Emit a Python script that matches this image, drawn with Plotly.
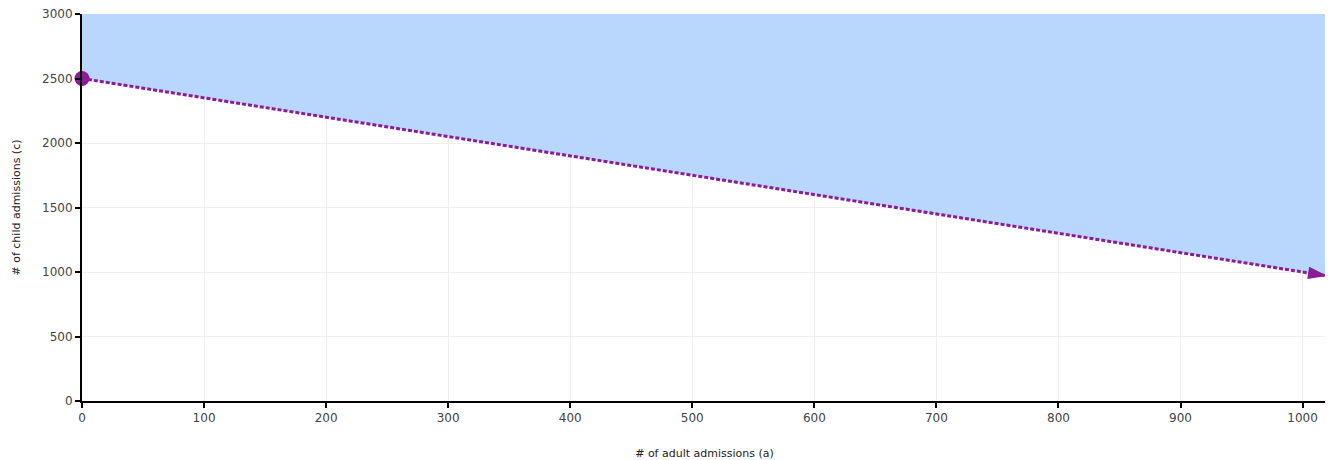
import plotly.graph_objects as go

adult = [0, 1020]
child = [2500, 970]
y_top = 3000
x_ticks = [0, 100, 200, 300, 400, 500, 600, 700, 800, 900, 1000]
y_ticks = [0, 500, 1000, 1500, 2000, 2500, 3000]

purple = "#8b1c98"
fig = go.Figure()
# shaded region above the line
fig.add_trace(go.Scatter(x=adult, y=[y_top] * len(adult), mode="lines",
                         line=dict(width=0), hoverinfo="skip", showlegend=False))
fig.add_trace(go.Scatter(x=adult, y=child, mode="lines", line=dict(width=0),
                         fill="tonexty", fillcolor="#b9d7fd", hoverinfo="skip",
                         showlegend=False))
# boundary line
fig.add_trace(go.Scatter(x=adult, y=child, mode="lines",
                         line=dict(color=purple, width=3, dash="4px,2px"),
                         showlegend=False))
# start point
fig.add_trace(go.Scatter(x=adult[:1], y=child[:1], mode="markers",
                         marker=dict(symbol="circle", size=15, color=purple),
                         cliponaxis=False, showlegend=False))
# arrow head at end
fig.add_trace(go.Scatter(x=adult, y=child, mode="markers",
                         marker=dict(symbol=["circle", "arrow"], size=[0, 20],
                                     color=purple, angleref="previous",
                                     opacity=1, line=dict(width=0)),
                         cliponaxis=False, showlegend=False))

axis_common = dict(showline=True, linecolor="black", linewidth=2,
                   ticks="outside", ticklen=5, tickwidth=2, tickcolor="black",
                   gridcolor="#efefef", gridwidth=1, zeroline=False,
                   automargin=False, ticklabeloverflow="allow",
                   tickfont=dict(family="DejaVu Sans", size=12, color="#444"))
fig.update_xaxes(range=[0, 1020], tickvals=x_ticks,
                 title=dict(text="# of adult admissions (a)", standoff=28,
                            font=dict(family="DejaVu Sans", size=11, color="#222")),
                 **axis_common)
fig.update_yaxes(range=[0, 3000], tickvals=y_ticks,
                 title=dict(text="# of child admissions (c)", standoff=19,
                            font=dict(family="DejaVu Sans", size=11, color="#222")),
                 **axis_common)
# page body has an 8px margin, so the figure is sized and offset to compensate
fig.update_layout(width=1325, height=452, plot_bgcolor="white", paper_bgcolor="white",
                  margin=dict(l=74, r=6, t=6, b=59))
fig.write_html("out.html")
